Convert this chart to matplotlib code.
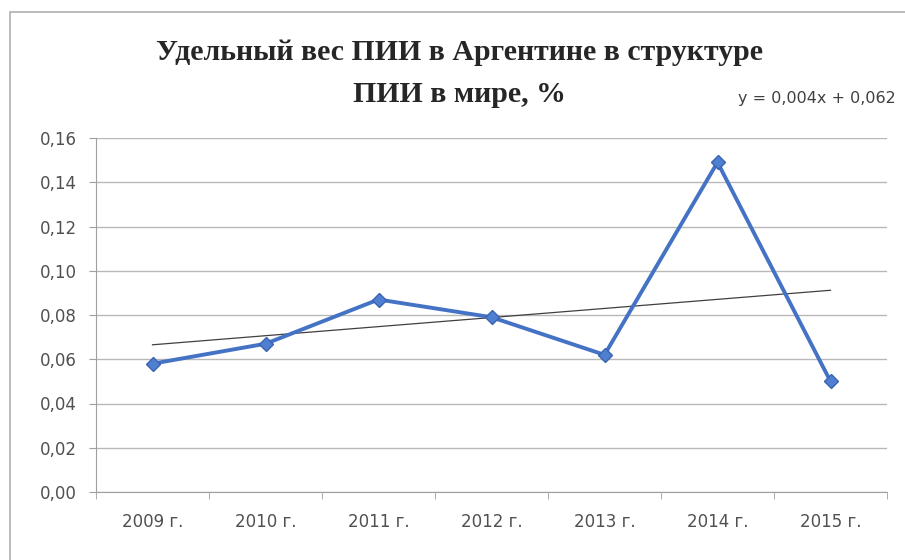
import matplotlib.pyplot as plt
import numpy as np
from matplotlib.patches import Rectangle

# data
years = ['2009 г.', '2010 г.', '2011 г.', '2012 г.', '2013 г.', '2014 г.', '2015 г.']
share = [0.058, 0.067, 0.087, 0.079, 0.062, 0.149, 0.050]
y_ticks = [0.00, 0.02, 0.04, 0.06, 0.08, 0.10, 0.12, 0.14, 0.16]

fig = plt.figure(figsize=(9.05, 5.6), dpi=100)
ax = fig.add_axes([96 / 905, 1 - 492 / 560, 791 / 905, 354 / 560])

x = np.arange(len(years))
ax.plot(x, share, color='#4472c4', lw=2.8, marker='D', ms=7,
        markerfacecolor='#4f7fd0', markeredgecolor='#3a64b0', zorder=3)

# linear trend (Excel-style, x = 1..7)
k, b = np.polyfit(x + 1, share, 1)
ax.plot(x, k * (x + 1) + b, color='#404040', lw=0.9, zorder=2)

ax.set_xlim(-0.5, len(years) - 0.5)
ax.set_ylim(0, 0.16)
ax.set_yticks(y_ticks)
ax.set_yticklabels([f'{v:.2f}'.replace('.', ',') for v in y_ticks])
ax.set_xticks(x)
ax.set_xticklabels(years)
ax.set_xticks(np.arange(-0.5, len(years)), minor=True)
ax.tick_params(axis='x', which='major', length=0, pad=15)
ax.tick_params(axis='x', which='minor', length=5, color='#a0a0a0', direction='out')
ax.tick_params(axis='y', length=5, color='#a0a0a0', pad=9)
ax.tick_params(labelsize=12, labelcolor='#505050')
for lab in ax.get_xticklabels() + ax.get_yticklabels():
    lab.set_family('Liberation Sans Narrow')

ax.grid(axis='y', color='#b8b8b8', lw=1)
ax.set_axisbelow(True)
for side in ['top', 'right']:
    ax.spines[side].set_visible(False)
ax.spines['left'].set_color('#a0a0a0')
ax.spines['bottom'].set_color('#a0a0a0')

fig.text(0.508, 0.907, 'Удельный вес ПИИ в Аргентине в структуре',
         ha='center', va='center', fontsize=21.5, fontweight='bold',
         family='Liberation Serif', color='#262626')
fig.text(0.508, 0.832, 'ПИИ в мире, %',
         ha='center', va='center', fontsize=21.5, fontweight='bold',
         family='Liberation Serif', color='#262626')
fig.text(0.816, 0.825, f'y = {k:.3f}x + {b:.3f}'.replace('.', ','),
         ha='left', va='center', fontsize=11.5, family='Liberation Sans Narrow',
         color='#404040')

fig.patches.append(Rectangle((10 / 905, -0.1), 1.0, 1.1 - 12 / 560,
                             transform=fig.transFigure, fill=False,
                             edgecolor='#b0b0b0', lw=1.2))

fig.savefig('out.png', dpi=100)
